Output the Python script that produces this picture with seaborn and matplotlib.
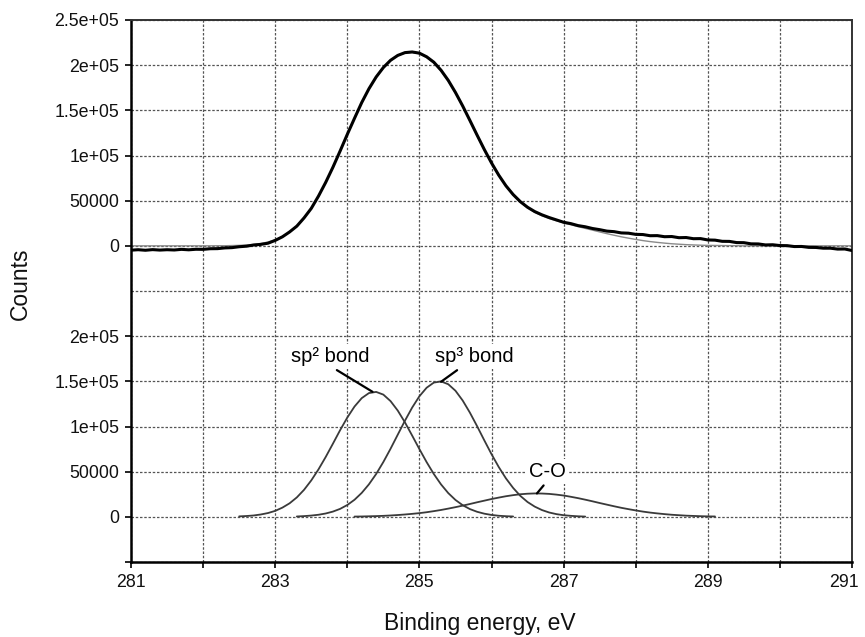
"""
XPS C1s spectrum: measured + fitted envelope (top, offset) and the three
fitted components sp2 / sp3 / C-O (bottom), drawn on one shared axis.
"""

import numpy as np
import pandas as pd
import matplotlib
matplotlib.use('Agg')
import matplotlib.pyplot as plt
import seaborn as sns
from matplotlib.ticker import FixedLocator, FixedFormatter
from matplotlib.transforms import ScaledTranslation

# ─── DATA ─────────────────────────────────────────────────────────────────────
# binding-energy sampling grids, 0.1 eV step
energy_full = np.round(np.arange(281.0, 291.05, 0.1), 1)
energy_sp2 = np.round(np.arange(282.5, 286.35, 0.1), 1)
energy_sp3 = np.round(np.arange(283.3, 287.35, 0.1), 1)
energy_co = np.round(np.arange(284.1, 289.15, 0.1), 1)

measured_counts = [
    -4800, -4300, -4900, -4200, -4700, -4300, -4600, -3900, -4400, -3800,
    -3900, -3200, -3100, -2300, -2000, -1000, -400, 900, 1600, 2900,
    6000, 10000, 15400, 21800, 30900, 41400, 55000, 70200, 86900, 104900,
    123400, 141200, 158600, 173900, 186900, 197400, 205400, 210800, 213900, 214600,
    213300, 209300, 203300, 194400, 183200, 169800, 154900, 138900, 122600, 106700,
    91800, 78300, 66500, 56800, 48900, 42700, 37900, 34300, 31300, 28700,
    26100, 24600, 22400, 21100, 19200, 17900, 16300, 15700, 14300, 14000,
    12700, 12500, 11200, 11300, 10100, 10300, 9000, 9200, 7900, 8000,
    6500, 6300, 5000, 4900, 3600, 3500, 2200, 2100, 1000, 1200,
    300, 200, -800, -700, -1700, -1800, -2600, -2600, -3600, -3500,
    -5200,
]

fit_counts = [
    0, 0, 0, 0, 0, 0, 0, 0, 0, 0,
    0, 0, 100, 100, 300, 500, 900, 1500, 2600, 4200,
    6700, 10300, 15300, 22000, 30700, 41600, 54700, 69900, 86700, 104700,
    123100, 141400, 158400, 173600, 186600, 197100, 205100, 210500, 213500, 214200,
    212600, 208600, 202200, 193400, 182300, 169000, 154200, 138200, 122000, 106100,
    91200, 77800, 66100, 56400, 48400, 42100, 37100, 33300, 30200, 27700,
    25400, 23300, 21300, 19300, 17400, 15400, 13500, 11700, 10000, 8500,
    7100, 5800, 4700, 3800, 3000, 2300, 1800, 1300, 1000, 700,
    500, 400, 300, 200, 100, 0, 0, 0, 0, 0,
    0, 0, 0, 0, 0, 0, 0, 0, 0, 0,
    0,
]

sp2_counts = [
    500, 900, 1500, 2600, 4200, 6600, 10200, 15000, 21500, 29900,
    40300, 52500, 66200, 80900, 95900, 109900, 122100, 131400, 137000, 138300,
    135300, 128100, 117600, 104500, 89900, 75000, 60600, 47400, 35900, 26300,
    18700, 12900, 8600, 5600, 3500, 2100, 1200, 700, 400,
]

sp3_counts = [
    400, 800, 1400, 2300, 3700, 5800, 8800, 13100, 18900, 26500,
    36000, 47400, 60700, 75400, 91000, 106500, 121000, 133500, 142900, 148600,
    149900, 146800, 139600, 128800, 115400, 100400, 84700, 69400, 55200, 42600,
    32000, 23200, 16400, 11300, 7500, 4800, 3000, 1800, 1100, 600,
    300,
]

co_counts = [
    300, 400, 600, 800, 1100, 1500, 2000, 2600, 3300, 4100,
    5100, 6300, 7600, 9100, 10700, 12400, 14200, 16100, 17900, 19700,
    21300, 22800, 24000, 25000, 25600, 25900, 25800, 25400, 24600, 23600,
    22200, 20700, 19000, 17200, 15300, 13500, 11700, 10000, 8500, 7100,
    5800, 4700, 3800, 3000, 2300, 1800, 1300, 1000, 700, 500,
    400,
]

# component labels: (text, peak it points to, text position)
peak_labels = ['sp\u00b2 bond', 'sp\u00b3 bond', 'C-O']
peak_xy = [(284.35, 138400), (285.30, 149500), (286.63, 25900)]
label_xy = [(283.77, 177100), (285.76, 177100), (286.77, 49800)]

x_ticks = list(range(281, 292))
x_tick_labels = ['281', '', '283', '', '285', '', '287', '', '289', '', '291']
y_ticks = list(range(-50000, 550001, 50000))
y_tick_labels = ['', '0', '50000', '1e+05', '1.5e+05', '2e+05', '',
                 '0', '50000', '1e+05', '1.5e+05', '2e+05', '2.5e+05']

# ─── STYLE ────────────────────────────────────────────────────────────────────
UPPER_OFFSET = 300000       # the upper spectrum sits 3e5 above the components
sns.set_theme(style='white')
plt.rcParams['font.family'] = ['Liberation Sans', 'DejaVu Sans']

fig = plt.figure(figsize=(8.65, 6.37), dpi=100)
ax = fig.add_axes([131 / 865, 75 / 637, 721 / 865, 542 / 637])

df_meas = pd.DataFrame({'E': energy_full, 'counts': np.array(measured_counts) + UPPER_OFFSET})
df_fit = pd.DataFrame({'E': energy_full, 'counts': np.array(fit_counts) + UPPER_OFFSET})

# fit goes under the measured trace: it only shows where the tail departs
sns.lineplot(data=df_fit, x='E', y='counts', ax=ax, color='#8a8a8a',
             lw=1.0, estimator=None, sort=False, zorder=2)
sns.lineplot(data=df_meas, x='E', y='counts', ax=ax, color='black',
             lw=2.2, estimator=None, sort=False, zorder=3)

for e, c in [(energy_sp2, sp2_counts), (energy_sp3, sp3_counts), (energy_co, co_counts)]:
    sns.lineplot(x=e, y=c, ax=ax, color='#3a3a3a', lw=1.3,
                 estimator=None, sort=False, zorder=3)

relpos = [(0.5, 0.0), (0.35, 0.0), (0.5, 0.0)]
for txt, xy, xyt, rp in zip(peak_labels, peak_xy, label_xy, relpos):
    ax.annotate(txt, xy=xy, xytext=xyt, ha='center', va='center',
                fontsize=14.5, color='black', zorder=5,
                bbox=dict(boxstyle='square,pad=0.15', fc='white', ec='none'),
                arrowprops=dict(arrowstyle='-', color='black', lw=1.6,
                                shrinkA=1, shrinkB=0, relpos=rp))

ax.set_xlim(281, 291)
ax.set_ylim(-50000, 550000)
ax.xaxis.set_major_locator(FixedLocator(x_ticks))
ax.xaxis.set_major_formatter(FixedFormatter(x_tick_labels))
ax.yaxis.set_major_locator(FixedLocator(y_ticks))
ax.yaxis.set_major_formatter(FixedFormatter(y_tick_labels))
ax.tick_params(axis='both', direction='out', length=4.5, width=1.2,
               color='black', labelsize=12.8, labelcolor='#111111', pad=4,
               left=True, bottom=True)
ax.yaxis.get_major_ticks()[6].tick1line.set_visible(False)

# last x label sits on the figure edge; nudge it left so it stays whole
last_lbl = ax.xaxis.get_major_ticks()[-1].label1
last_lbl.set_transform(last_lbl.get_transform() +
                       ScaledTranslation(-8 / 100, 0, fig.dpi_scale_trans))

ax.grid(True, which='major', color='#555555', lw=0.9, ls=(0, (2, 1.4)))
ax.set_axisbelow(True)
for side in ['left', 'bottom']:
    ax.spines[side].set_color('black')
    ax.spines[side].set_linewidth(1.8)
for side in ['top', 'right']:
    ax.spines[side].set_color('#333333')
    ax.spines[side].set_linewidth(1.4)

ax.set_xlabel('Binding energy, eV', fontsize=16.5, color='#111111')
ax.set_ylabel('Counts', fontsize=16.5, color='#111111')
ax.xaxis.set_label_coords(0.484, -0.092)
ax.yaxis.set_label_coords(-0.138, 0.513)

fig.savefig('out.png', dpi=100, facecolor='white')
plt.close(fig)
